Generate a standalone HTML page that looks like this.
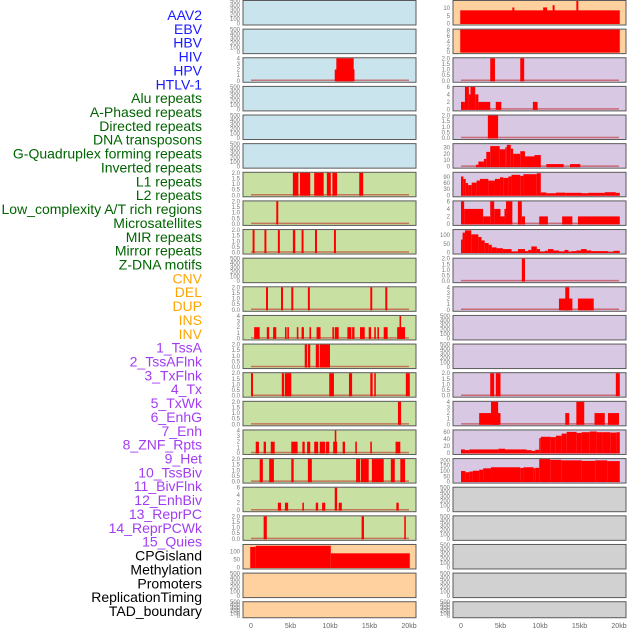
<!DOCTYPE html>
<html><head><meta charset="utf-8"><style>
html,body{margin:0;padding:0;background:#fff;width:630px;height:630px;overflow:hidden}
svg{display:block;font-family:"Liberation Sans",sans-serif}
</style></head><body>
<svg id="chart" width="630" height="630" viewBox="0 0 630 630" xmlns="http://www.w3.org/2000/svg">
<g id="labels"></g>
<g id="panels"></g>
<g id="xaxes"></g>
</svg>
<script>
const featureLabels = ["AAV2","EBV","HBV","HIV","HPV","HTLV-1","Alu repeats","A-Phased repeats","Directed repeats","DNA transposons","G-Quadruplex forming repeats","Inverted repeats","L1 repeats","L2 repeats","Low_complexity A/T rich regions","Microsatellites","MIR repeats","Mirror repeats","Z-DNA motifs","CNV","DEL","DUP","INS","INV","1_TssA","2_TssAFlnk","3_TxFlnk","4_Tx","5_TxWk","6_EnhG","7_Enh","8_ZNF_Rpts","9_Het","10_TssBiv","11_BivFlnk","12_EnhBiv","13_ReprPC","14_ReprPCWk","15_Quies","CPGisland","Methylation","Promoters","ReplicationTiming","TAD_boundary"];
const labelGroups = ["virus","virus","virus","virus","virus","virus","rep","rep","rep","rep","rep","rep","rep","rep","rep","rep","rep","rep","rep","sv","sv","sv","sv","sv","chrom","chrom","chrom","chrom","chrom","chrom","chrom","chrom","chrom","chrom","chrom","chrom","chrom","chrom","chrom","other","other","other","other","other"];
const xTickLabels = ["0","5kb","10kb","15kb","20kb"];
const xTickValues = [0,5,10,15,20];

// Left column panels: segments [startKb, endKb, value]
const leftBg = ["b","b","b","b","b","b","g","g","g","g","g","g","g","g","g","g","g","g","g","o","o","o"];
const leftYmax = [500,500,4,500,500,500,2,2,2,500,2,4,2,2,2,4,2,6,2,140,500,500];
const leftTicks = [[0,100,200,300,400,500],[0,100,200,300,400,500],[0,1,2,3,4],[0,100,200,300,400,500],[0,100,200,300,400,500],[0,100,200,300,400,500],[0,0.5,1,1.5,2],[0,0.5,1,1.5,2],[0,0.5,1,1.5,2],[0,100,200,300,400,500],[0,0.5,1,1.5,2],[0,1,2,3,4],[0,0.5,1,1.5,2],[0,0.5,1,1.5,2],[0,0.5,1,1.5,2],[0,1,2,3,4],[0,0.5,1,1.5,2],[0,2,4,6],[0,0.5,1,1.5,2],[0,50,100],[0,100,200,300,400,500],[0,100,200,300,400,500]];
const leftSegs = [
 [],[],
 [[10.6,13.1,2],[10.8,13.0,4]],
 [],[],[],
 [[5.3,6.0,2],[6.2,7.5,2],[8.0,9.2,2],[9.6,10.1,2],[10.3,10.9,2],[13.7,14.2,2]],
 [[3.2,3.45,2]],
 [[0.2,0.45,2],[1.7,1.95,2],[3.4,3.65,2],[5.3,5.6,2],[6.4,6.65,2],[8.1,8.35,2],[10.5,10.75,2]],
 [],
 [[1.9,2.15,2],[3.8,4.05,2],[5.1,5.35,2],[7.2,7.45,2],[15.1,15.35,2],[17.0,17.25,2]],
 [[0.4,1.1,2],[2.0,2.3,2],[2.8,3.2,2],[4.3,4.5,2],[4.6,4.8,2],[5.8,6.0,2],[6.4,6.7,2],[7.4,7.6,2],[8.3,8.8,2],[10.3,10.5,2],[10.6,11.1,2],[12.2,12.7,2],[12.8,13.1,2],[13.8,14.4,2],[14.9,15.2,2],[15.6,15.8,2],[16.0,16.2,2],[16.8,17.3,2],[18.5,19.5,2],[18.8,19.0,4]],
 [[6.8,7.1,2],[7.2,7.5,2],[8.2,8.6,2],[8.7,10.0,2]],
 [[0.0,0.25,2],[3.9,4.2,2],[4.3,5.1,2],[9.9,10.5,2],[12.4,12.8,2],[15.1,15.4,2],[15.6,15.8,2],[19.6,20.1,2]],
 [[18.6,19.0,2]],
 [[0.6,1.0,2],[1.6,1.9,2],[2.5,3.0,2],[5.1,5.9,2],[6.5,6.8,2],[7.1,7.5,2],[8.0,8.5,2],[8.7,9.4,2],[9.5,9.9,2],[10.4,10.9,2],[10.6,10.8,4],[11.6,11.9,2],[13.2,13.4,2],[15.1,15.3,2],[18.3,18.9,2]],
 [[1.1,1.5,2],[2.3,2.9,2],[5.1,5.4,2],[7.2,7.7,2],[13.3,13.8,2],[13.9,14.9,2],[15.3,16.8,2],[17.7,18.2,2],[18.9,19.5,2]],
 [[3.4,3.8,2],[4.3,4.7,2],[6.5,6.7,2],[8.2,8.5,2],[9.0,9.4,2],[11.1,11.5,2],[18.4,18.7,2],[10.6,10.9,6]],
 [[1.6,2.0,2],[14.0,14.3,2],[19.4,19.6,2]],
 [[-0.1,0.6,128],[0.6,10.1,135],[10.1,20.1,88]],
 [],[]
];

// Right column panels
const rightBg = ["o","o","p","p","p","p","p","p","p","p","p","p","p","p","p","p","p","x","x","x","x","x"];
const rightYmax = [14.7,8.4,2,6,2,35,110,6,130,2,4,500,500,2,4,64,212,500,500,500,500,500];
const rightTicks = [[0,5,10],[0,2,4,6,8],[0,0.5,1,1.5,2],[0,2,4,6],[0,0.5,1,1.5,2],[0,10,20,30],[0,30,60,90],[0,2,4,6],[0,50,100],[0,0.5,1,1.5,2],[0,1,2,3,4],[0,100,200,300,400,500],[0,100,200,300,400,500],[0,0.5,1,1.5,2],[0,1,2,3,4],[0,20,40,60],[0,50,100,150,200],[0,100,200,300,400,500],[0,100,200,300,400,500],[0,100,200,300,400,500],[0,100,200,300,400,500],[0,100,200,300,400,500]];
const rightSegs = [
 [[-0.1,20.1,8.6],[6.5,6.75,10.5],[10.4,10.9,10.5],[11.6,11.85,12],[14.6,14.85,14.7]],
 [[-0.1,20.1,8.4]],
 [[3.7,4.3,2],[7.5,8.0,2]],
 [[0,0.5,2],[0.5,1.0,6],[1.0,1.2,4],[1.2,1.8,6],[1.8,2.2,4],[2.2,3.7,2],[4.4,5.1,2],[9.1,9.7,2]],
 [[3.4,4.7,2]],
 [[1.9,2.2,3],[2.2,2.9,8],[2.9,3.2,12],[3.2,3.7,23],[3.7,4.9,32],[4.9,5.6,27],[5.6,5.8,30],[5.8,6.3,34],[6.3,6.6,28],[6.6,7.5,20],[7.5,8.1,24],[8.1,9.3,16],[9.3,10.1,18],[10.8,13.0,4],[13.8,15.1,4]],
 [[0,0.3,92],[0.3,0.6,80],[0.6,0.9,60],[0.9,1.35,50],[1.35,1.98,62],[1.98,2.4,72],[2.4,3.46,80],[3.46,4.3,72],[4.3,4.94,80],[4.94,5.35,88],[5.35,6.0,85],[6.0,6.4,92],[6.4,7.5,100],[7.5,7.9,95],[7.9,9.6,103],[9.6,10.1,108],[10.1,10.8,14],[10.8,12.0,10],[12.0,13.2,13],[13.2,15.3,12],[15.3,16.1,10],[16.1,18.2,12],[18.2,19.6,15],[19.6,20.1,12]],
 [[0,0.4,6],[0.4,2.8,4],[2.8,3.7,2],[3.7,4.2,6],[4.2,5.0,4],[5.0,5.5,2],[5.5,5.7,4],[5.7,6.5,6],[7.2,7.7,6],[7.7,8.1,2],[9.9,11.0,2],[12.8,14.1,2],[14.8,20.1,2]],
 [[0,0.2,75],[0.2,0.5,115],[0.5,1.3,128],[1.3,2.2,105],[2.2,2.6,90],[2.6,3.0,70],[3.0,3.5,55],[3.5,3.9,45],[3.9,4.5,30],[4.5,5.3,25],[5.3,6.4,20],[6.4,7.2,6],[7.2,8.1,20],[8.1,8.5,8],[8.5,8.9,15],[8.9,9.6,35],[9.6,10.0,20],[10.0,10.6,5],[10.6,11.0,10],[11.0,11.7,20],[11.7,12.4,12],[12.4,13.1,6],[13.1,13.6,15],[13.6,14.0,4],[14.0,14.6,8],[14.6,15.2,12],[15.2,15.9,20],[15.9,16.5,12],[16.5,18.6,8],[18.6,19.3,2],[19.3,20.1,10]],
 [[7.7,8.1,2]],
 [[12.4,14.1,2],[13.2,13.7,4],[14.8,16.8,2]],
 [],[],
 [[3.7,4.2,2],[4.4,5.0,2],[19.6,20.1,2]],
 [[2.3,5.0,2],[3.8,4.7,4],[13.2,13.7,2],[14.6,15.6,4],[16.9,18.2,2],[18.6,20.0,2]],
 [[0,0.5,10],[0.5,1.05,8],[1.05,4.73,10],[4.73,5.57,12],[5.57,8.3,10],[8.3,8.95,8],[8.95,9.4,6],[9.4,9.9,9],[9.9,10.1,42],[10.1,11.35,46],[11.35,12.0,45],[12.0,12.74,49],[12.74,13.38,55],[13.38,14.64,60],[14.64,15.27,57],[15.27,16.3,59],[16.3,17.2,61],[17.2,17.9,59],[17.9,18.9,59],[18.9,19.7,58],[19.7,20.1,59]],
 [[0,0.55,100],[0.55,1.05,88],[1.05,1.5,95],[1.5,2.3,102],[2.3,2.8,112],[2.8,3.8,125],[3.8,7.5,135],[7.5,7.9,128],[7.9,9.2,135],[9.2,9.4,125],[9.4,9.9,130],[9.9,11.3,212],[11.3,12.7,205],[12.7,15.3,200],[15.3,17.0,195],[17.0,18.5,200],[18.5,20.1,193]],
 [],[],[],[],[]
];

const NS = "http://www.w3.org/2000/svg";
const bgColors = {b:"#c9e4ec", g:"#c9e0a3", o:"#ffd19e", p:"#d8c8e3", x:"#d1d1d1"};
const groupColors = {virus:"#1a1aff", rep:"#006400", sv:"#ffa500", chrom:"#a23cf2", other:"#000"};
function mk(tag, attrs, parent){ const e=document.createElementNS(NS,tag); for(const k in attrs) e.setAttribute(k,attrs[k]); parent.appendChild(e); return e; }

// labels
const lg = document.getElementById("labels");
featureLabels.forEach((t,i)=>{
  const e = mk("text",{x:202,y:15+i*13.86+5,"text-anchor":"end","font-size":"14",fill:groupColors[labelGroups[i]]},lg);
  
  
  e.textContent = t;
});

const pg = document.getElementById("panels");
function rowTop(r){ return 0.5 + r*28.63; }
function rowH(r){ return r===21 ? 16 : 24.5; }
function fmt(v, ticks){ const dec = ticks.some(t=>t%1!==0); return dec ? v.toFixed(1) : String(v); }

function drawColumn(off, bgs, ymaxs, ticksArr, segsArr, colName){
  const px0 = 243+off, pxw = 173;
  const xs = kb => 251 + off + kb*7.9;
  for(let r=0;r<22;r++){
    const top=rowTop(r), h=rowH(r), bottom=top+h-1.5;
    const ymax=ymaxs[r];
    const ys = v => bottom - (v/ymax)*(h-2);
    const g = mk("g",{},pg);
    
    
    const bg = mk("rect",{x:px0,y:top,width:pxw,height:h,fill:bgColors[bgs[r]],stroke:"#5a5a5a","stroke-width":"1"},g);
    
    
    const segs = segsArr[r];
    if(segs.length){
      const bl = mk("line",{x1:xs(0),x2:xs(20),y1:bottom-0.5,y2:bottom-0.5,stroke:"rgba(190,30,30,0.55)","stroke-width":"1.5"},g);
      
      
    }
    segs.forEach(s=>{
      const x1=Math.max(xs(s[0]),px0+1), x2=xs(s[1]);
      const y=Math.max(ys(s[2]),top+0.5);
      const b = mk("rect",{x:x1,y:y,width:Math.max(x2-x1,1.5),height:bottom+0.5-y,fill:"#ff0000"},g);
      
      
    });
    ticksArr[r].forEach(t=>{
      const tt = mk("text",{x:px0-3,y:ys(t)+2,"text-anchor":"end","font-size":"6",fill:"#777"},g);
      
      
      tt.textContent = fmt(t, ticksArr[r]);
    });
  }
  const xg = document.getElementById("xaxes");
  xTickValues.forEach((v,i)=>{
    const t = mk("text",{x:xs(v),y:628,"text-anchor":"middle","font-size":"7",fill:"#666"},xg);
    
    
    t.textContent = xTickLabels[i];
  });
}
drawColumn(0, leftBg, leftYmax, leftTicks, leftSegs, "left");
drawColumn(210, rightBg, rightYmax, rightTicks, rightSegs, "right");
</script>
</body></html>
